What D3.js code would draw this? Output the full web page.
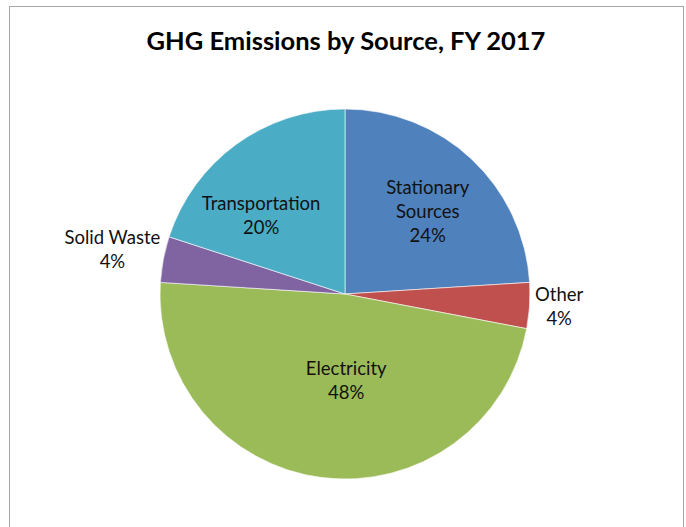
<!DOCTYPE html>
<html>
<head>
<meta charset="utf-8">
<script src="https://cdn.jsdelivr.net/npm/d3@7"></script>
<style>
  body { margin: 0; background: #fff; }
  text { font-family: Lato, "Open Sans", sans-serif; }
</style>
</head>
<body>
<svg id="chart" width="686" height="527"></svg>
<script>
// GHG emissions by source, FY 2017 (percent of total)
var categories = ['Stationary Sources', 'Other', 'Electricity', 'Solid Waste', 'Transportation'];
var values = [24, 4, 48, 4, 20];
var labelLines = [['Stationary', 'Sources'], ['Other'], ['Electricity'], ['Solid Waste'], ['Transportation']];
var colors = ['#4F81BD', '#C0504D', '#9BBB59', '#8064A2', '#4BACC6'];

var width = 686, height = 527;
var cx = 345, cy = 294, radius = 185;

// label placement: radius factor and angle nudge (degrees)
var labelLayout = [
    {k: 0.63, da: 2},
    {k: 1.16, da: 0},
    {k: 0.47, da: -8},
    {k: 1.28, da: 0},
    {k: 0.62, da: -11}
];

var svg = d3.select('#chart');

svg.append('rect')
    .attr('x', 9.5)
    .attr('y', 6.5)
    .attr('width', 674)
    .attr('height', 540)
    .attr('fill', 'white')
    .attr('stroke', '#a6a6a6')
    .attr('stroke-width', 1);

svg.append('text')
    .attr('x', 346)
    .attr('y', 50)
    .attr('text-anchor', 'middle')
    .attr('font-size', 25.5)
    .attr('font-weight', 'bold')
    .attr('fill', '#000')
    .text('GHG Emissions by Source, FY 2017');

var pie = d3.pie().sort(null).value(function(d) { return d; });
var arcs = pie(values);
var arc = d3.arc().innerRadius(0).outerRadius(radius);

var g = svg.append('g').attr('transform', 'translate(' + cx + ',' + cy + ')');

g.selectAll('path')
    .data(arcs)
    .enter().append('path')
    .attr('d', arc)
    .attr('fill', function(d, i) { return colors[i]; })
    .attr('stroke', 'white')
    .attr('stroke-width', 0.6);

var lineH = 24;
arcs.forEach(function(d, i) {
    var lay = labelLayout[i];
    var a = (d.startAngle + d.endAngle) / 2 + lay.da * Math.PI / 180;
    var r = radius * lay.k;
    var x = r * Math.sin(a);
    var y = -r * Math.cos(a);
    var lines = labelLines[i].concat([values[i] + '%']);
    var t = g.append('text')
        .attr('text-anchor', 'middle')
        .attr('font-size', 18.5)
        .attr('fill', '#111');
    var y0 = y - (lines.length - 1) * lineH / 2 + 6;
    lines.forEach(function(s, j) {
        t.append('tspan')
            .attr('x', x)
            .attr('y', y0 + j * lineH)
            .text(s);
    });
});
</script>
</body>
</html>
